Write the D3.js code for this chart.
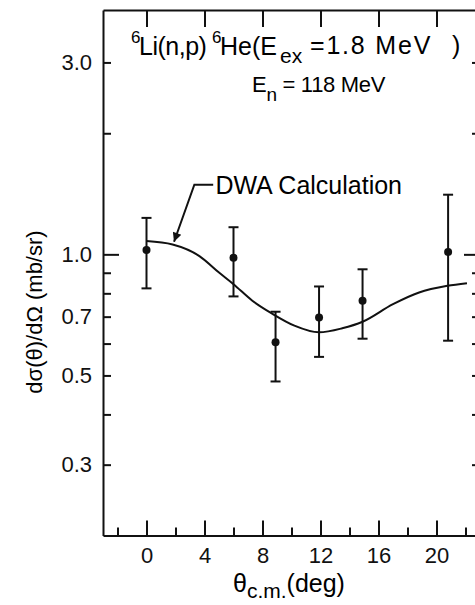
<!DOCTYPE html>
<html>
<head>
<meta charset="utf-8">
<script src="https://cdn.jsdelivr.net/npm/d3@7"></script>
<style>
  body { margin: 0; background: #fff; }
  svg { display: block; font-family: "Liberation Sans", Arial, Helvetica, sans-serif; }
  .axis path, .axis line { stroke: #111; stroke-width: 2; }
  .axis text { font-size: 22px; fill: #111; }
</style>
</head>
<body>
<script>
// measured angular distribution, 6Li(n,p)6He(1.8 MeV), En = 118 MeV
var theta   = [0, 6, 8.9, 11.9, 14.9, 20.8];
var sigma   = [1.025, 0.981, 0.605, 0.697, 0.767, 1.014];
var errHigh = [1.232, 1.168, 0.720, 0.832, 0.918, 1.407];
var errLow  = [0.823, 0.786, 0.483, 0.556, 0.617, 0.610];

// DWA calculation curve
var dwaTheta = [0, 1.8, 3.65, 5.0, 6.0, 7.3, 8.7, 10.2, 11.9, 13.5, 14.9, 17.0, 18.8, 20.75, 22.1];
var dwaSigma = [1.079, 1.058, 0.990, 0.901, 0.843, 0.767, 0.711, 0.665, 0.640, 0.655, 0.680, 0.752, 0.804, 0.835, 0.848];

// ticks
var xMajor = [0, 4, 8, 12, 16, 20];
var xMinor = [-2, 2, 6, 10, 14, 18, 22];
var yTicks = [0.3, 0.4, 0.5, 0.6, 0.7, 0.8, 0.9, 1.0, 2.0, 3.0];
var yLabels = ["0.3", "0.5", "0.7", "1.0", "3.0"];

var width = 475, height = 605;
var svg = d3.select("body").append("svg")
    .attr("width", width)
    .attr("height", height);

var x = d3.scaleLinear().domain([-3, 23]).range([103, 480]);
var y = d3.scaleLog().domain([0.2, 4.05]).range([535.5, 10]);

// ==== axes ====
var xb = svg.append("g")
    .attr("class", "axis")
    .attr("transform", "translate(0," + y.range()[0] + ")")
    .call(d3.axisBottom(x)
      .tickValues(xMajor.concat(xMinor))
      .tickSizeInner(-8)
      .tickSizeOuter(0)
      .tickPadding(12)
      .tickFormat(function(d) { return xMajor.indexOf(d) >= 0 ? d : ""; }));
xb.selectAll(".tick line")
    .attr("y2", function(d) { return xMajor.indexOf(d) >= 0 ? -15 : -8; });

svg.append("g")
    .attr("class", "axis")
    .attr("transform", "translate(0," + y.range()[1] + ")")
    .call(d3.axisTop(x)
      .tickValues(xMajor)
      .tickSizeInner(-17)
      .tickSizeOuter(0)
      .tickFormat(""));

function fmtY(d) {
  var s = d.toFixed(1);
  return yLabels.indexOf(s) >= 0 ? s : "";
}

var yl = svg.append("g")
    .attr("class", "axis")
    .attr("transform", "translate(" + x.range()[0] + ",0)")
    .call(d3.axisLeft(y)
      .tickValues(yTicks)
      .tickSizeInner(-8)
      .tickSizeOuter(0)
      .tickPadding(11)
      .tickFormat(fmtY));
yl.selectAll(".tick line")
    .attr("x2", function(d) { return d === 1 ? 16 : 8; });

var yr = svg.append("g")
    .attr("class", "axis")
    .attr("transform", "translate(" + x.range()[1] + ",0)")
    .call(d3.axisRight(y)
      .tickValues(yTicks)
      .tickSizeInner(-8)
      .tickSizeOuter(0)
      .tickFormat(""));
yr.selectAll(".tick line")
    .attr("x2", function(d) { return d === 1 ? -16 : -8; });

// ==== DWA curve ====
var line = d3.line()
    .x(function(d, i) { return x(dwaTheta[i]); })
    .y(function(d) { return y(d); })
    .curve(d3.curveMonotoneX);

svg.append("path")
    .datum(dwaSigma)
    .attr("d", line)
    .attr("fill", "none")
    .attr("stroke", "#111")
    .attr("stroke-width", 2);

// ==== data points with error bars ====
var pts = svg.selectAll(".pt")
    .data(theta)
  .enter().append("g")
    .attr("class", "pt");

pts.append("line")
    .attr("x1", function(d) { return x(d); })
    .attr("x2", function(d) { return x(d); })
    .attr("y1", function(d, i) { return y(errLow[i]); })
    .attr("y2", function(d, i) { return y(errHigh[i]); })
    .attr("stroke", "#111").attr("stroke-width", 2);

[errLow, errHigh].forEach(function(arr) {
  pts.append("line")
      .attr("x1", function(d) { return x(d) - 5; })
      .attr("x2", function(d) { return x(d) + 5; })
      .attr("y1", function(d, i) { return y(arr[i]); })
      .attr("y2", function(d, i) { return y(arr[i]); })
      .attr("stroke", "#111").attr("stroke-width", 2);
});

pts.append("circle")
    .attr("cx", function(d) { return x(d); })
    .attr("cy", function(d, i) { return y(sigma[i]); })
    .attr("r", 4)
    .attr("fill", "#111");

// ==== annotation ====
svg.append("defs").append("marker")
    .attr("id", "head")
    .attr("viewBox", "0 0 10 10")
    .attr("refX", 10).attr("refY", 5)
    .attr("markerWidth", 6.5).attr("markerHeight", 4.5)
    .attr("markerUnits", "strokeWidth")
    .attr("orient", "auto")
  .append("path")
    .attr("d", "M0,0L10,5L0,10z")
    .attr("fill", "#111");

var ann = [[4.6, 1.49], [3.3, 1.49], [1.9, 1.075]];
svg.append("path")
    .attr("d", d3.line().x(function(d) { return x(d[0]); }).y(function(d) { return y(d[1]); })(ann))
    .attr("fill", "none")
    .attr("stroke", "#111")
    .attr("stroke-width", 2)
    .attr("marker-end", "url(#head)");

svg.append("text")
    .attr("x", x(4.75))
    .attr("y", y(1.49))
    .attr("dy", "0.36em")
    .style("font-size", "25px")
    .text("DWA Calculation");

// ==== title ====
// line 1 pieces are set where they sit in the figure
function piece(txt, px, py, size, spacing) {
  svg.append("text")
      .attr("x", px)
      .attr("y", py)
      .style("font-size", size + "px")
      .style("letter-spacing", (spacing || 0) + "px")
      .text(txt);
}
piece("6", 131, 43, 17);
piece("Li(n,p)", 139, 55, 25, -0.5);
piece("6", 212, 43, 17);
piece("He(E", 220, 55, 25);
piece("ex", 280, 63, 21);
piece("=1.8 MeV", 310, 54, 25, 1.8);
piece(")", 452, 54, 25);

var t2 = svg.append("text")
    .attr("x", 252)
    .attr("y", 92)
    .style("font-size", "22px")
    .style("letter-spacing", "-0.3px");
t2.append("tspan").text("E");
t2.append("tspan").attr("dy", 9).style("font-size", "19px").text("n");
t2.append("tspan").attr("dy", -9).text(" = 118 MeV");

// ==== axis titles ====
var xt = svg.append("text")
    .attr("x", 233)
    .attr("y", 592)
    .style("font-size", "25px");
xt.append("tspan").text("θ");
xt.append("tspan").attr("dy", 6).style("font-size", "21px").text("c.m.");
xt.append("tspan").attr("dy", -6).text("(deg)");

svg.append("text")
    .attr("transform", "translate(42,312) rotate(-90)")
    .attr("text-anchor", "middle")
    .style("font-size", "22px")
    .text("dσ(θ)/dΩ (mb/sr)");
</script>
</body>
</html>
